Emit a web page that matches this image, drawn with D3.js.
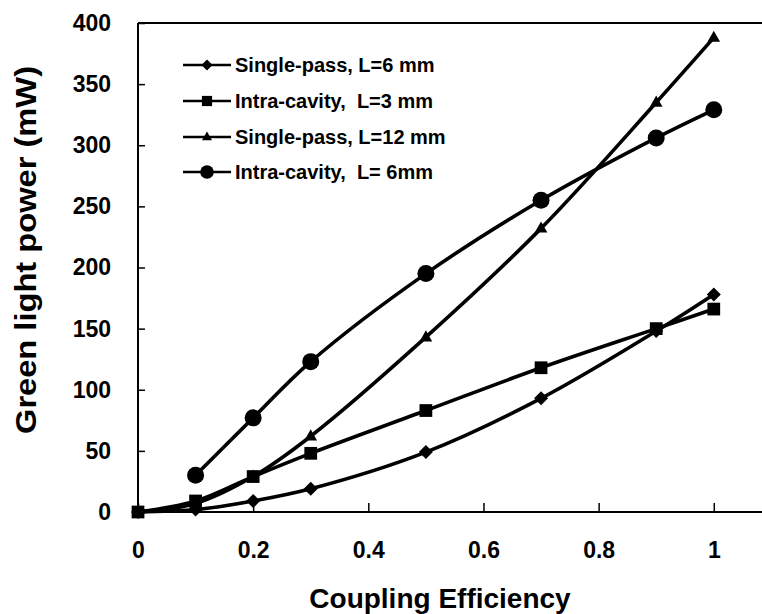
<!DOCTYPE html>
<html><head><meta charset="utf-8">
<script src="https://cdn.jsdelivr.net/npm/d3@7"></script>
<style>body{margin:0;background:#fff}svg{display:block}</style>
</head><body>
<svg id="c" width="762" height="614"></svg>
<script>
const xValues = [0, 0.1, 0.2, 0.3, 0.5, 0.7, 0.9, 1.0];
const seriesNames = ["Single-pass, L=6 mm", "Intra-cavity,  L=3 mm", "Single-pass, L=12 mm", "Intra-cavity,  L= 6mm"];
const singlePass6 = [0, 2, 9, 19, 49, 93, 148, 178];
const intraCavity3 = [0, 9, 29, 48, 83, 118, 150, 166];
const singlePass12 = [0, 7, 29, 62, 143, 232, 335, 388];
const intraCavity6 = [null, 30, 77, 123, 195, 255, 306, 329];
const markerTypes = ["diamond", "square", "triangle", "circle"];
const xTicks = [0, 0.2, 0.4, 0.6, 0.8, 1];
const yTicks = [0, 50, 100, 150, 200, 250, 300, 350, 400];

const svg = d3.select("#c");
const font = "'Liberation Sans', Arial, sans-serif";
const x = d3.scaleLinear().domain([0, 1.082]).range([138, 761]);
const y = d3.scaleLinear().domain([0, 400]).range([512, 23]);

// frame: top line
svg.append("line").attr("x1", x(0)).attr("x2", 762).attr("y1", y(400)).attr("y2", y(400))
  .attr("stroke", "#000").attr("stroke-width", 2);

const xAxis = svg.append("g").attr("transform", `translate(0,${y(0)})`)
  .call(d3.axisBottom(x).tickValues(xTicks).tickSize(-9).tickPadding(30).tickFormat(d3.format("~g")));
xAxis.select(".domain").attr("d", `M${x(0)},0H762`).attr("stroke-width", 2);
const yAxis = svg.append("g").attr("transform", `translate(${x(0)},0)`)
  .call(d3.axisLeft(y).tickValues(yTicks).tickSize(-7).tickPadding(27));
yAxis.select(".domain").attr("d", `M0,${y(400)}V${y(0)}`).attr("stroke-width", 2);
[xAxis, yAxis].forEach(a => {
  a.selectAll(".tick line").attr("stroke", "#000").attr("stroke-width", 1.5);
  a.selectAll("text").attr("font-family", font).attr("font-weight", "bold")
    .attr("font-size", 23).attr("fill", "#000");
});

svg.append("text").attr("x", 440).attr("y", 608).attr("text-anchor", "middle")
  .attr("font-family", font).attr("font-weight", "bold").attr("font-size", 28)
  .text("Coupling Efficiency");
svg.append("text").attr("transform", "translate(36,250) rotate(-90)").attr("text-anchor", "middle")
  .attr("font-family", font).attr("font-weight", "bold").attr("font-size", 29)
  .attr("textLength", 368).attr("lengthAdjust", "spacingAndGlyphs")
  .text("Green light power (mW)");

const allSeries = [singlePass6, intraCavity3, singlePass12, intraCavity6];
const line = d3.line().defined(d => d[1] != null).x(d => x(d[0])).y(d => y(d[1]))
  .curve(d3.curveCatmullRom.alpha(0.5));

function marker(g, type, cx, cy, s) {
  if (type === "diamond") {
    g.append("path").attr("d", `M${cx},${cy - s}L${cx + s},${cy}L${cx},${cy + s}L${cx - s},${cy}Z`);
  } else if (type === "square") {
    g.append("rect").attr("x", cx - s * 0.85).attr("y", cy - s * 0.85).attr("width", s * 1.7).attr("height", s * 1.7);
  } else if (type === "triangle") {
    g.append("path").attr("d", `M${cx},${cy - s}L${cx + s * 0.9},${cy + s * 0.6}L${cx - s * 0.9},${cy + s * 0.6}Z`);
  } else {
    g.append("circle").attr("cx", cx).attr("cy", cy).attr("r", s);
  }
}
const markerSize = {diamond: 7, square: 7.5, triangle: 7, circle: 8.5};

allSeries.forEach((vals, i) => {
  const pts = xValues.map((xv, j) => [xv, vals[j]]).filter(p => p[1] != null);
  svg.append("path").datum(pts).attr("d", line).attr("fill", "none")
    .attr("stroke", "#000").attr("stroke-width", 3.6);
  const g = svg.append("g").attr("fill", "#000");
  pts.forEach(p => marker(g, markerTypes[i], x(p[0]), y(p[1]), markerSize[markerTypes[i]]));
});

// legend
const legY = [65, 101, 137, 172];
const leg = svg.append("g");
seriesNames.forEach((name, i) => {
  leg.append("line").attr("x1", 183).attr("x2", 231).attr("y1", legY[i]).attr("y2", legY[i])
    .attr("stroke", "#000").attr("stroke-width", 2.5);
  const g = leg.append("g").attr("fill", "#000");
  marker(g, markerTypes[i], 207, legY[i], markerSize[markerTypes[i]] * 0.8);
  leg.append("text").attr("x", 235).attr("y", legY[i] + 7).attr("font-family", font)
    .attr("font-weight", "bold").attr("font-size", 20).attr("xml:space", "preserve")
    .style("white-space", "pre").text(name);
});
</script>
</body></html>
